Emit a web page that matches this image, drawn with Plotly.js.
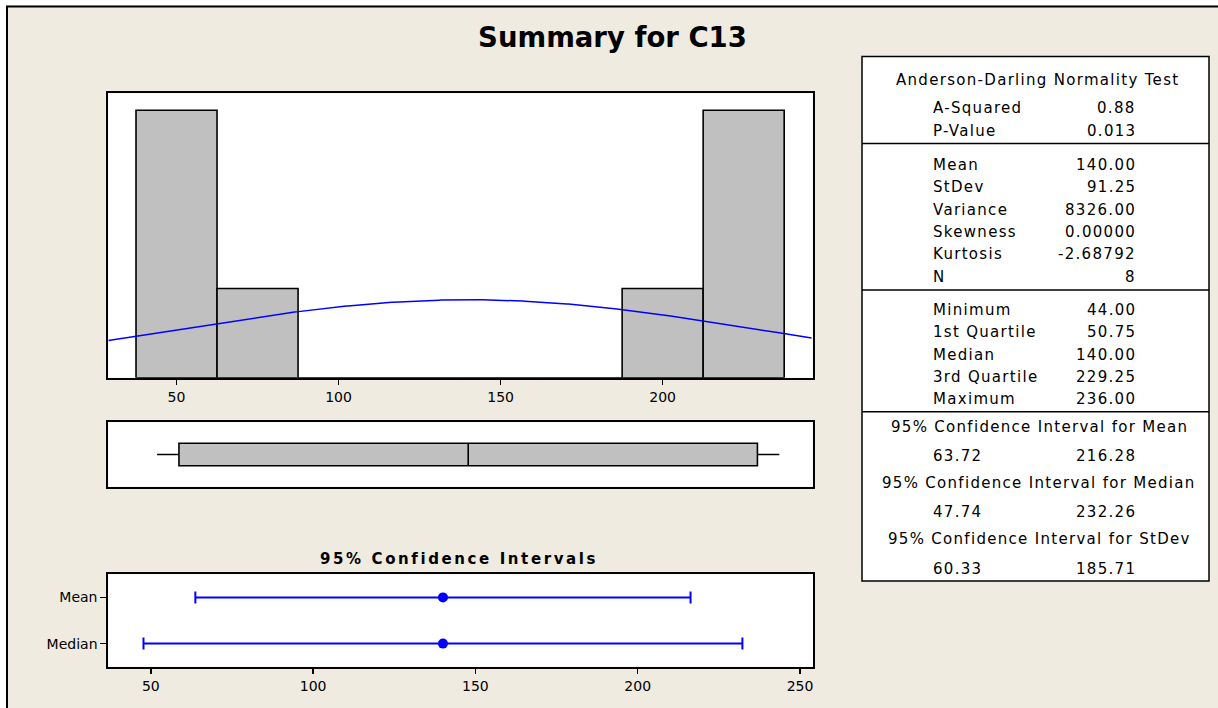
<!DOCTYPE html>
<html><head><meta charset="utf-8">
<script src="https://cdn.plot.ly/plotly-3.0.1.min.js"></script>
<style>html,body{margin:0;padding:0;background:#fff;} #chart{width:1218px;height:708px;}</style>
</head><body><div id="chart"></div>
<script>
// ---------- data ----------
const binCenters = [50, 75, 100, 125, 150, 175, 200, 225];
const binCounts  = [3, 1, 0, 0, 0, 0, 1, 3];
const binWidth = 25;
const nObs = 8;
const meanValue = 140.00;
const stdevValue = 91.25;

const boxMin = [44.00];
const boxQ1 = [50.75];
const boxMedian = [140.00];
const boxQ3 = [229.25];
const boxMax = [236.00];

const ciNames  = ['Mean', 'Median'];
const ciCenter = [140.00, 140.00];
const ciLower  = [63.72, 47.74];
const ciUpper  = [216.28, 232.26];

const histTicks = [50, 100, 150, 200];
const ciTicks = [50, 100, 150, 200, 250];

const adHeader = 'Anderson-Darling Normality Test';
const adLabels = ['A-Squared', 'P-Value'];
const adValues = ['0.88', '0.013'];
const descLabels = ['Mean', 'StDev', 'Variance', 'Skewness', 'Kurtosis', 'N'];
const descValues = ['140.00', '91.25', '8326.00', '0.00000', '-2.68792', '8'];
const quantLabels = ['Minimum', '1st Quartile', 'Median', '3rd Quartile', 'Maximum'];
const quantValues = ['44.00', '50.75', '140.00', '229.25', '236.00'];
const ciHeaders = ['95% Confidence Interval for Mean', '95% Confidence Interval for Median', '95% Confidence Interval for StDev'];
const ciLowText = ['63.72', '47.74', '60.33'];
const ciHighText = ['216.28', '232.26', '185.71'];

// ---------- geometry helpers ----------
const W = 1218, H = 708;
const fx = p => p / W;
const fy = p => 1 - p / H;
const FONT = 'DejaVu Sans, Verdana, sans-serif';
const histRange = [28.95, 246.3];

// fitted normal curve from the reported mean / stdev, scaled to counts
const curveX = [], curveY = [];
for (let x = histRange[0]; x <= histRange[1] + 0.001; x += 0.5) {
  const z = (x - meanValue) / stdevValue;
  curveX.push(x);
  curveY.push(nObs * binWidth * Math.exp(-0.5 * z * z) / (stdevValue * Math.sqrt(2 * Math.PI)));
}

const traces = [
  {type: 'bar', x: binCenters, y: binCounts, width: binWidth, xaxis: 'x', yaxis: 'y',
   marker: {color: '#C0C0C0', line: {color: '#000', width: 1.6}}, hoverinfo: 'skip'},
  {type: 'scatter', mode: 'lines', x: curveX, y: curveY, xaxis: 'x', yaxis: 'y',
   line: {color: '#0000FF', width: 1.5}, hoverinfo: 'skip'},
  {type: 'box', orientation: 'h', y: [0], q1: boxQ1, median: boxMedian, q3: boxQ3,
   lowerfence: boxMin, upperfence: boxMax, xaxis: 'x2', yaxis: 'y2', width: 0.35,
   fillcolor: '#C0C0C0', line: {color: '#000', width: 1.6}, boxpoints: false, whiskerwidth: 0, hoverinfo: 'skip'},
  {type: 'scatter', mode: 'markers', x: ciCenter, y: ciNames, xaxis: 'x3', yaxis: 'y3',
   marker: {color: '#0000FF', size: 10},
   error_x: {type: 'data', symmetric: false,
     array: ciUpper.map((u, i) => u - ciCenter[i]),
     arrayminus: ciLower.map((l, i) => ciCenter[i] - l),
     color: '#0000FF', thickness: 2, width: 6},
   hoverinfo: 'skip'}
];

const frame = {showline: true, mirror: true, linecolor: '#000', linewidth: 2, showgrid: false, zeroline: false};

const annotations = [];
function addText(text, xPx, yPx, xanchor, size, bold, spacing) {
  let t = spacing ? '<span style="letter-spacing:' + spacing + 'px">' + text + '</span>' : text;
  if (bold) t = '<b>' + t + '</b>';
  annotations.push({text: t, x: fx(xPx), y: fy(yPx), xref: 'paper', yref: 'paper',
    xanchor: xanchor, yanchor: 'middle', showarrow: false,
    font: {family: FONT, size: size, color: '#000'}});
}
const LBL = 931, VAL = 1138, MID = 1037, TS = 15, SP = 1.3;
addText(adHeader, MID, 80, 'center', TS, false, SP);
adLabels.forEach((l, i) => { addText(l, LBL, 108.3 + i * 22.7, 'left', TS, false, SP); addText(adValues[i], VAL, 108.3 + i * 22.7, 'right', TS, false, SP); });
descLabels.forEach((l, i) => { addText(l, LBL, 165 + i * 22.35, 'left', TS, false, SP); addText(descValues[i], VAL, 165 + i * 22.35, 'right', TS, false, SP); });
quantLabels.forEach((l, i) => { addText(l, LBL, 310 + i * 22.25, 'left', TS, false, SP); addText(quantValues[i], VAL, 310 + i * 22.25, 'right', TS, false, SP); });
ciHeaders.forEach((h, i) => {
  const y0 = 426.7 + i * 56.3;
  addText(h, MID + 2, y0, 'center', TS, false, SP);
  addText(ciLowText[i], LBL, y0 + 29.2, 'left', TS, false, SP);
  addText(ciHighText[i], VAL, y0 + 29.2, 'right', TS, false, SP);
});
addText('95% Confidence Intervals', 459, 559, 'center', 15, true, 2.6);

const shapes = [
  // white margin outside the outer frame
  {type: 'rect', xref: 'paper', yref: 'paper', x0: 0, x1: fx(6), y0: 0, y1: 1, fillcolor: '#FFFFFF', line: {width: 0}, layer: 'above'},
  {type: 'rect', xref: 'paper', yref: 'paper', x0: 0, x1: 1, y0: fy(5), y1: 1, fillcolor: '#FFFFFF', line: {width: 0}, layer: 'above'},
  // outer frame
  {type: 'rect', xref: 'paper', yref: 'paper', x0: fx(7), x1: fx(1230), y0: fy(720), y1: fy(6.5), line: {color: '#000', width: 2}, layer: 'above'},
  // statistics table
  {type: 'rect', xref: 'paper', yref: 'paper', x0: fx(862), x1: fx(1209), y0: fy(581), y1: fy(56.5), fillcolor: '#FFFFFF', line: {color: '#000', width: 1.5}, layer: 'below'},
  {type: 'line', xref: 'paper', yref: 'paper', x0: fx(862), x1: fx(1209), y0: fy(143.5), y1: fy(143.5), line: {color: '#000', width: 1.5}},
  {type: 'line', xref: 'paper', yref: 'paper', x0: fx(862), x1: fx(1209), y0: fy(290), y1: fy(290), line: {color: '#000', width: 1.5}},
  {type: 'line', xref: 'paper', yref: 'paper', x0: fx(862), x1: fx(1209), y0: fy(411.7), y1: fy(411.7), line: {color: '#000', width: 1.5}}
];

const layout = {
  width: W, height: H, margin: {l: 0, r: 0, t: 0, b: 0},
  paper_bgcolor: '#EFEBE1', plot_bgcolor: '#FFFFFF', showlegend: false,
  font: {family: FONT, color: '#000', size: 14},
  title: {text: '<b>Summary for C13</b>', font: {family: FONT, size: 27.5, color: '#000'},
          x: fx(612.5), xanchor: 'center', y: fy(37.5), yanchor: 'middle'},
  xaxis: Object.assign({}, frame, {domain: [fx(108.3), fx(812.7)], range: histRange, tickvals: histTicks,
          ticks: 'outside', ticklen: 5, tickwidth: 1.5, tickcolor: '#000', anchor: 'y', tickfont: {size: 14}}),
  yaxis: Object.assign({}, frame, {domain: [fy(377.7), fy(93.3)], range: [0, 3.19], showticklabels: false, ticks: '', anchor: 'x'}),
  xaxis2: Object.assign({}, frame, {domain: [fx(108.3), fx(812.7)], range: histRange, showticklabels: false, ticks: '', anchor: 'y2'}),
  yaxis2: Object.assign({}, frame, {domain: [fy(486.7), fy(422.3)], range: [-0.5, 0.5], showticklabels: false, ticks: '', anchor: 'x2'}),
  xaxis3: Object.assign({}, frame, {domain: [fx(108.3), fx(813.3)], range: [36.9, 254.1], tickvals: ciTicks,
          ticks: 'outside', ticklen: 5, tickwidth: 1.5, tickcolor: '#000', anchor: 'y3', tickfont: {size: 14}}),
  yaxis3: Object.assign({}, frame, {domain: [fy(666.7), fy(574.3)], range: [-0.5, 1.5], type: 'category',
          categoryorder: 'array', categoryarray: ciNames.slice().reverse(),
          ticks: 'outside', ticklen: 6, tickwidth: 1.5, tickcolor: '#000', anchor: 'x3', tickfont: {size: 14}}),
  annotations: annotations,
  shapes: shapes
};

Plotly.newPlot('chart', traces, layout, {displayModeBar: false, staticPlot: true});
</script></body></html>
